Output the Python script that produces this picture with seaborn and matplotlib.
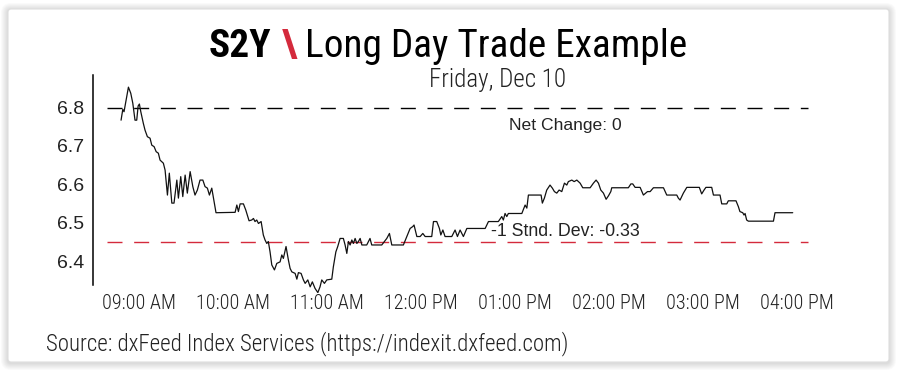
import numpy as np
import pandas as pd
import matplotlib
matplotlib.use("Agg")
import matplotlib.pyplot as plt
import matplotlib.dates as mdates
from matplotlib import font_manager as fm
from matplotlib.patches import FancyBboxPatch
from matplotlib.transforms import IdentityTransform
import seaborn as sns

# ---------------- data ----------------
minutes_after_9am = [
    -11.5, -10.4, -9.6, -6.8, -5.3, -4.0, -2.6, -1.5, -0.6, 0.2, 1.1, 2.7, 3.8, 5.3, 7.0, 8.1, 9.6,
    10.9, 12.3, 13.4, 15.5, 16.6, 18.1, 19.3, 20.9, 22.3, 24.1, 25.1, 26.6, 27.9, 29.4, 30.8, 32.6,
    34.3, 35.7, 37.2, 38.9, 40.7, 42.1, 43.6, 44.9, 46.4, 49.1, 61.3, 62.4, 63.4, 64.5, 66.6, 68.1,
    70.2, 71.9, 73.0, 74.0, 75.1, 76.2, 77.9, 79.3, 80.4, 81.5, 82.5, 83.6, 84.7, 86.4, 87.9, 90.0,
    91.1, 92.1, 93.8, 95.3, 96.4, 97.5, 99.6, 100.7, 101.7, 103.4, 104.9, 106.0, 107.7, 109.2, 110.6,
    112.3, 114.1, 115.5, 116.6, 118.3, 119.8, 123.0, 124.0, 125.6, 126.8, 128.3, 130.4, 131.5, 132.6,
    133.6, 134.7, 135.8, 136.8, 137.9, 139.0, 140.0, 141.1, 142.2, 145.3, 147.4, 148.5, 154.9, 158.1,
    159.8, 161.3, 168.7, 170.9, 173.0, 174.7, 175.5, 177.3, 179.4, 181.1, 182.6, 186.8, 187.9, 190.0,
    191.7, 192.6, 193.9, 195.3, 199.6, 201.7, 203.2, 204.9, 207.0, 209.2, 220.9, 223.0, 229.3, 231.5,
    232.5, 233.6, 234.7, 235.7, 244.3, 246.4, 247.5, 248.5, 256.6, 257.4, 258.7, 260.2, 262.3, 263.8,
    265.1, 266.6, 268.1, 269.8, 271.5, 273.0, 274.0, 276.2, 277.7, 279.4, 281.5, 283.2, 287.9, 290.0,
    291.7, 293.2, 294.7, 296.4, 298.1, 299.6, 301.1, 301.7, 312.3, 313.9, 315.1, 316.6, 319.8, 321.9,
    324.5, 326.2, 328.3, 334.7, 336.8, 343.2, 344.2, 345.3, 347.4, 349.6, 353.8, 357.6, 359.1, 360.6,
    361.8, 365.5, 366.6, 370.8, 371.9, 375.1, 376.1, 381.0, 382.5, 383.5, 385.3, 386.1, 386.8, 387.8,
    388.9, 404.9, 405.9, 417.2,
]
s2y_values = [
    6.767, 6.795, 6.789, 6.853, 6.837, 6.811, 6.767, 6.767, 6.804, 6.809, 6.789, 6.759, 6.741, 6.724,
    6.720, 6.702, 6.698, 6.685, 6.681, 6.663, 6.655, 6.637, 6.572, 6.629, 6.551, 6.551, 6.611, 6.564,
    6.620, 6.568, 6.624, 6.577, 6.633, 6.594, 6.572, 6.585, 6.611, 6.611, 6.594, 6.590, 6.572, 6.590,
    6.526, 6.527, 6.546, 6.529, 6.549, 6.549, 6.533, 6.505, 6.507, 6.511, 6.503, 6.507, 6.498, 6.503,
    6.468, 6.455, 6.446, 6.451, 6.424, 6.390, 6.377, 6.394, 6.398, 6.416, 6.407, 6.438, 6.403, 6.381,
    6.372, 6.368, 6.353, 6.370, 6.368, 6.351, 6.342, 6.351, 6.333, 6.346, 6.329, 6.318, 6.333, 6.351,
    6.342, 6.351, 6.353, 6.385, 6.424, 6.438, 6.459, 6.459, 6.442, 6.420, 6.451, 6.442, 6.455, 6.446,
    6.459, 6.446, 6.451, 6.459, 6.442, 6.442, 6.459, 6.442, 6.442, 6.459, 6.472, 6.442, 6.442, 6.464,
    6.485, 6.490, 6.494, 6.464, 6.464, 6.472, 6.464, 6.464, 6.503, 6.503, 6.485, 6.468, 6.481, 6.464,
    6.464, 6.481, 6.464, 6.481, 6.464, 6.485, 6.485, 6.503, 6.503, 6.516, 6.507, 6.524, 6.516, 6.524,
    6.524, 6.546, 6.538, 6.572, 6.572, 6.551, 6.564, 6.585, 6.598, 6.590, 6.581, 6.577, 6.585, 6.581,
    6.603, 6.598, 6.607, 6.611, 6.607, 6.611, 6.603, 6.591, 6.591, 6.603, 6.611, 6.603, 6.585, 6.577,
    6.561, 6.570, 6.581, 6.591, 6.591, 6.601, 6.601, 6.592, 6.592, 6.572, 6.581, 6.581, 6.591, 6.591,
    6.572, 6.572, 6.564, 6.559, 6.577, 6.592, 6.592, 6.592, 6.575, 6.585, 6.592, 6.592, 6.572, 6.572,
    6.549, 6.549, 6.557, 6.557, 6.542, 6.529, 6.526, 6.520, 6.524, 6.507, 6.504, 6.504, 6.526, 6.526,
]
net_change_level = 6.80
std_dev_level = 6.45
y_ticks = [6.4, 6.5, 6.6, 6.7, 6.8]
y_tick_labels = ["6.4", "6.5", "6.6", "6.7", "6.8"]
x_tick_hours = [9, 10, 11, 12, 13, 14, 15, 16]
title_ticker = "S2Y"
title_sep = "\\"
title_text = "Long Day Trade Example"
subtitle_text = "Friday, Dec 10"
net_change_label = "Net Change: 0"
std_dev_label = "-1 Stnd. Dev: -0.33"
source_label = "Source: dxFeed Index Services (https://indexit.dxfeed.com)"

# ---------------- setup ----------------
day = pd.Timestamp("2021-12-10")
open_time = day + pd.Timedelta(hours=9)
df = pd.DataFrame({
    "time": open_time + pd.to_timedelta(minutes_after_9am, unit="min"),
    "value": s2y_values,
})

sns.set_theme(style="white")
names = {f.name for f in fm.fontManager.ttflist}
COND = "Roboto Condensed" if "Roboto Condensed" in names else "Roboto"
plt.rcParams["font.family"] = ["Liberation Sans", "DejaVu Sans"]

RED = "#d42a3c"
W, H = 897, 373
fig = plt.figure(figsize=(W / 100, H / 100), dpi=100)
fig.patch.set_facecolor("white")

# card with soft shadow (pixel coords, origin bottom-left)
cx0, cy0, cx1, cy1 = 8, H - 362, 889, H - 9
for i in range(7, 0, -1):
    fig.patches.append(FancyBboxPatch((cx0 - i, cy0 - i - 1), (cx1 - cx0) + 2 * i, (cy1 - cy0) + 2 * i,
                                      boxstyle="round,pad=0,rounding_size=%d" % (3 + i),
                                      transform=IdentityTransform(), facecolor="black",
                                      edgecolor="none", alpha=0.02, zorder=0))
fig.patches.append(FancyBboxPatch((cx0, cy0), cx1 - cx0, cy1 - cy0,
                                  boxstyle="round,pad=0,rounding_size=3",
                                  transform=IdentityTransform(), facecolor="white",
                                  edgecolor="#dedede", linewidth=0.8, zorder=0.5))

# axes
ax_l, ax_r, ax_t, ax_b = 92.7, 830, 75, 293
ax = fig.add_axes([ax_l / W, 1 - ax_b / H, (ax_r - ax_l) / W, (ax_b - ax_t) / H])
ax.set_zorder(2)
ax.set_facecolor("none")

sns.lineplot(data=df, x="time", y="value", ax=ax, color="#111111", linewidth=0.9, zorder=3)

lx0 = open_time + pd.Timedelta(minutes=-20.6)
lx1 = open_time + pd.Timedelta(minutes=427)
ax.plot([lx0, lx1], [net_change_level] * 2, color="black", linewidth=1.0, dashes=(10.8, 8.4), zorder=2)
ax.plot([lx0, lx1], [std_dev_level] * 2, color=RED, linewidth=1.0, dashes=(10.8, 8.4), zorder=2)

ylo, yhi = 6.8 - (ax_b - 107.5) / 384, 6.8 + (107.5 - ax_t) / 384
ax.set_ylim(ylo, yhi)
ax.set_xlim(open_time + pd.Timedelta(minutes=-29.6), open_time + pd.Timedelta(minutes=441))

for s in ["top", "right", "bottom"]:
    ax.spines[s].set_visible(False)
ax.spines["left"].set_color("black")
ax.spines["left"].set_linewidth(1.1)
ax.spines["left"].set_bounds(6.8 - (285 - 107.5) / 384, yhi)

ax.set_yticks(y_ticks)
ax.set_yticklabels(y_tick_labels, fontsize=14, color="#222222", family=["Liberation Sans", "DejaVu Sans"])
ax.set_xticks([day + pd.Timedelta(hours=h) for h in x_tick_hours])
ax.xaxis.set_major_formatter(mdates.DateFormatter("%I:%M %p"))
for lab in ax.get_xticklabels():
    lab.set_family([COND, "DejaVu Sans"])
    lab.set_fontsize(13 if COND == "Roboto" else 14.5)
    lab.set_fontweight("light")
    lab.set_color("#222222")
ax.tick_params(axis="both", length=0)
ax.tick_params(axis="y", pad=6)
ax.tick_params(axis="x", pad=1)
ax.set_xlabel("")
ax.set_ylabel("")
ax.grid(False)

ax.text(open_time + pd.Timedelta(minutes=271.9), 6.754, net_change_label, ha="center", va="center",
        fontsize=12.6, color="#222222", family=["Liberation Sans", "DejaVu Sans"])
ax.text(open_time + pd.Timedelta(minutes=271.9), 6.478, std_dev_label, ha="center", va="center",
        fontsize=12.8, color="#222222", family=["Liberation Sans", "DejaVu Sans"])

# ---------------- titles ----------------
renderer = fig.canvas.get_renderer()


def width_px(t):
    return t.get_window_extent(renderer=renderer).width


base = 28.0
pieces = [(title_ticker, "bold", "black"), (title_sep, "bold", RED), (title_text, "normal", "black")]
gaps = [11, 8]
tmp = [fig.text(0, 0, p, fontsize=base, fontweight=w, family=[COND, "DejaVu Sans"]) for p, w, c in pieces]
tot = sum(width_px(t) for t in tmp)
for t in tmp:
    t.remove()
size = base * (478 - sum(gaps)) / tot
objs = [fig.text(0, 1 - 57 / H, p, fontsize=size, fontweight=w, color=c, va="baseline",
                 family=[COND, "DejaVu Sans"]) for p, w, c in pieces]
ws = [width_px(o) for o in objs]
x = 448 - (sum(ws) + sum(gaps)) / 2
for i, o in enumerate(objs):
    o.set_x(x / W)
    x += ws[i] + (gaps[i] if i < len(gaps) else 0)

sub = fig.text(498 / W, 1 - 87.5 / H, subtitle_text, ha="center", va="baseline", fontsize=14,
               fontweight="light", color="#222222", family=[COND, "DejaVu Sans"])
sub.set_fontsize(14 * 137 / width_px(sub))

src = fig.text(46 / W, 1 - 350 / H, source_label, ha="left", va="baseline", fontsize=13,
               fontweight="light", color="#222222", family=[COND, "DejaVu Sans"])
src.set_fontsize(13 * 519 / width_px(src))

fig.savefig("out.png", dpi=100, facecolor="white")
